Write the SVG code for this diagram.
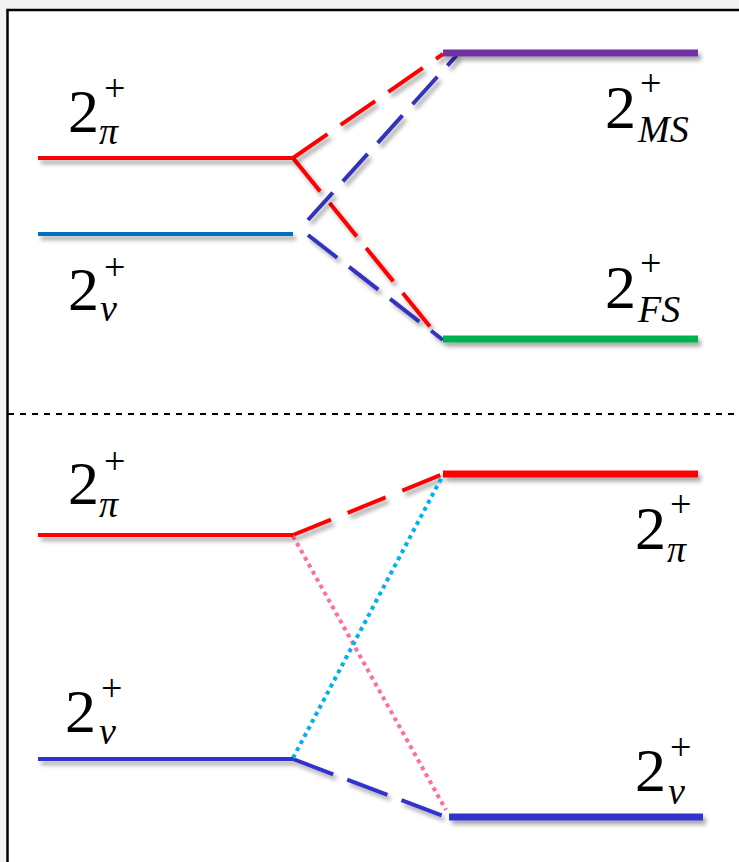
<svg xmlns="http://www.w3.org/2000/svg" width="739" height="862" viewBox="0 0 739 862">
<defs>
<filter id="sh" filterUnits="userSpaceOnUse" x="0" y="0" width="739" height="862">
<feDropShadow dx="3" dy="4" stdDeviation="2" flood-color="#000" flood-opacity="0.35"/>
</filter>
<style>
.lvl{fill:none;stroke-linecap:butt;filter:url(#sh)}
.thin{stroke-width:4}
.thick{stroke-width:7}
.con{fill:none;stroke-width:4;filter:url(#sh)}
.dot{fill:none;stroke-width:4}
text{font-family:'Times New Roman','Liberation Serif','DejaVu Serif',serif;fill:#000}
.n{font-size:62px}
.sup{font-size:38px}
.sub{font-size:38px;font-style:italic}
</style>
</defs>
<rect x="0" y="0" width="739" height="862" fill="#f2f2f2"/>
<rect x="7.5" y="10" width="740" height="860" fill="#fff" stroke="#000" stroke-width="2.5"/>
<line x1="8" y1="414" x2="739" y2="414" stroke="#000" stroke-width="2" stroke-dasharray="6 6"/>

<g id="connectors">
<line class="con" x1="293" y1="158" x2="443" y2="54" stroke="#ff0000" stroke-dasharray="42 16"/>
<line class="con" x1="293" y1="158" x2="432" y2="329" stroke="#ff0000" stroke-dasharray="43 15"/>
<line class="con" x1="308" y1="220" x2="457" y2="55" stroke="#3333bb" stroke-dasharray="37 15"/>
<line class="con" x1="308" y1="235" x2="443" y2="340" stroke="#3333bb" stroke-dasharray="37 15"/>
<line class="con" x1="293" y1="535" x2="443" y2="474" stroke="#ff0000" stroke-dasharray="41 18"/>
<line class="con" x1="293" y1="759" x2="443" y2="816" stroke="#3333cc" stroke-dasharray="43 15"/>
<line class="dot" x1="293" y1="536" x2="446" y2="810" stroke="#ff6f9c" stroke-dasharray="4 4"/>
<line class="dot" x1="293" y1="758" x2="443" y2="475" stroke="#00b0f0" stroke-dasharray="4 4"/>
</g>

<g id="pi-top-left">
<line class="lvl thin" x1="38" y1="158" x2="293" y2="158" stroke="#ff0000"/>
<text class="n" x="68" y="132">2</text><text class="sup" x="104" y="101">+</text><text class="sub" x="99" y="144">π</text>
</g>
<g id="nu-top-left">
<line class="lvl thin" x1="38" y1="234" x2="293" y2="234" stroke="#0070c0"/>
<text class="n" x="68" y="310">2</text><text class="sup" x="104" y="280">+</text><text class="sub" x="100" y="321">ν</text>
</g>
<g id="ms">
<line class="lvl thick" x1="443" y1="53" x2="698" y2="53" stroke="#7030a0"/>
<text class="n" x="605" y="128">2</text><text class="sup" x="640" y="96">+</text><text class="sub" x="638" y="142">MS</text>
</g>
<g id="fs">
<line class="lvl thick" x1="443" y1="339" x2="698" y2="339" stroke="#00b050"/>
<text class="n" x="605" y="308">2</text><text class="sup" x="640" y="276">+</text><text class="sub" x="638" y="322">FS</text>
</g>
<g id="pi-bottom-left">
<line class="lvl thin" x1="38" y1="535" x2="293" y2="535" stroke="#ff0000"/>
<text class="n" x="68" y="504">2</text><text class="sup" x="104" y="474">+</text><text class="sub" x="99" y="517">π</text>
</g>
<g id="nu-bottom-left">
<line class="lvl thin" x1="38" y1="759" x2="293" y2="759" stroke="#3333cc"/>
<text class="n" x="65" y="732">2</text><text class="sup" x="101" y="701">+</text><text class="sub" x="99" y="744">ν</text>
</g>
<g id="pi-bottom-right">
<line class="lvl thick" x1="443" y1="474" x2="698" y2="474" stroke="#ff0000"/>
<text class="n" x="635" y="549">2</text><text class="sup" x="670" y="517">+</text><text class="sub" x="667" y="562">π</text>
</g>
<g id="nu-bottom-right">
<line class="lvl thick" x1="449" y1="817" x2="703" y2="817" stroke="#3333cc"/>
<text class="n" x="635" y="791">2</text><text class="sup" x="670" y="760">+</text><text class="sub" x="668" y="804">ν</text>
</g>
</svg>
